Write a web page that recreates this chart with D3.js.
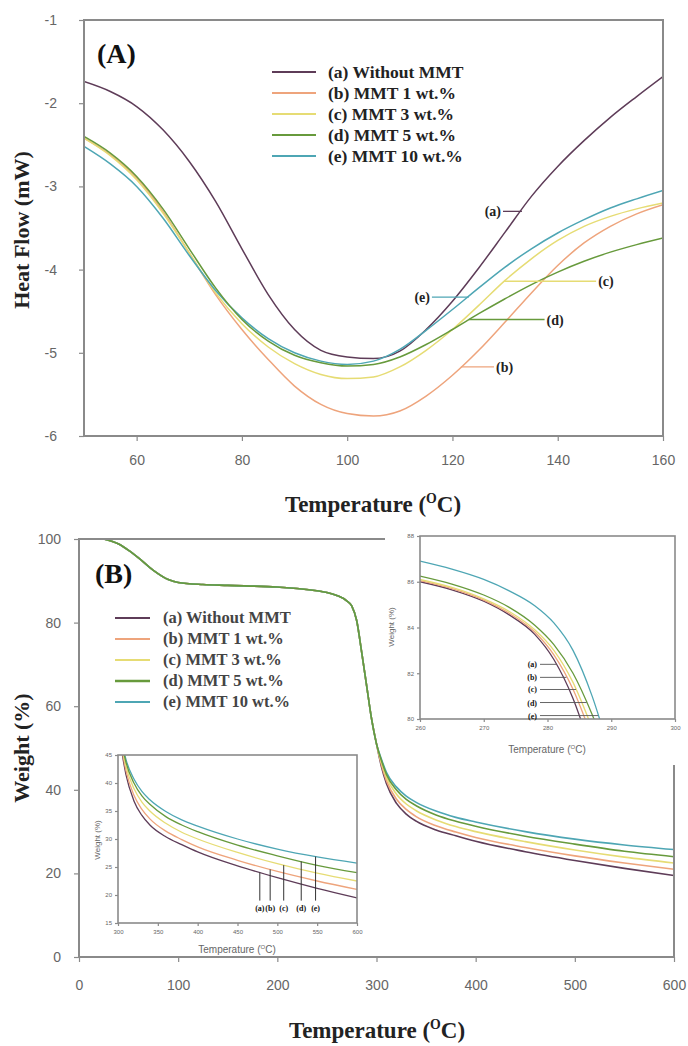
<!DOCTYPE html>
<html>
<head>
<meta charset="utf-8">
<script src="https://cdn.jsdelivr.net/npm/d3@7"></script>
<style>
body { margin: 0; background: #fff; }
</style>
</head>
<body>
<div id="chart"></div>
<script>
// ---- data ----
var seriesKeys = ["(a)", "(b)", "(c)", "(d)", "(e)"];
var seriesNames = ["(a) Without MMT", "(b) MMT 1 wt.%", "(c) MMT 3 wt.%", "(d) MMT 5 wt.%", "(e) MMT 10 wt.%"];

// panel A: DSC heat flow
var dscTemp = [50,55,60,65,70,75,80,85,90,95,100,105,110,115,120,125,130,135,140,145,150,155,160];
var dscA = [-1.74,-1.86,-2.04,-2.32,-2.7,-3.18,-3.75,-4.3,-4.72,-4.97,-5.05,-5.07,-4.98,-4.72,-4.38,-3.98,-3.55,-3.12,-2.76,-2.45,-2.17,-1.92,-1.68];
var dscB = [-2.42,-2.62,-2.9,-3.3,-3.8,-4.3,-4.72,-5.08,-5.4,-5.62,-5.73,-5.76,-5.7,-5.52,-5.27,-4.97,-4.63,-4.28,-3.95,-3.68,-3.48,-3.33,-3.22];
var dscC = [-2.42,-2.63,-2.92,-3.32,-3.8,-4.28,-4.65,-4.93,-5.13,-5.26,-5.31,-5.29,-5.17,-4.97,-4.72,-4.43,-4.13,-3.87,-3.65,-3.48,-3.36,-3.27,-3.2];
var dscD = [-2.4,-2.6,-2.88,-3.27,-3.75,-4.22,-4.6,-4.86,-5.03,-5.12,-5.16,-5.14,-5.05,-4.9,-4.72,-4.53,-4.35,-4.18,-4.03,-3.9,-3.79,-3.7,-3.62];
var dscE = [-2.52,-2.73,-3.0,-3.38,-3.83,-4.25,-4.58,-4.83,-5.0,-5.1,-5.14,-5.1,-4.96,-4.73,-4.48,-4.22,-3.97,-3.75,-3.56,-3.4,-3.26,-3.15,-3.05];
var dscTicksX = [60,80,100,120,140,160];
var dscTicksY = [-1,-2,-3,-4,-5,-6];
// curve labels in panel A: value, temperature on the curve, temperature at label side
var dscNoteY = [-3.3,-5.17,-4.14,-4.6,-4.33];
var dscNoteCurve = [133.2,121.6,129.8,123.1,123.1];
var dscNoteEnd = [129.6,127.9,147.3,137.5,116.1];

// panel B: TGA weight
var tgaTemp = [25,40,50,60,75,90,100,125,150,200,250,260,270,275,280,285,290,295,300,305,310,320,330,340,360,380,400,450,500,550,600];
var tgaCommon = [100,98.8,97.3,95.5,92.5,90.3,89.6,89.1,88.9,88.5,87.2,86.5,85.2,84,80.5,73,65,57,51];
var tgaA = tgaCommon.concat([45.5,41.5,36.8,34.2,32.5,30.4,29.0,27.7,25.2,23.1,21.2,19.5]);
var tgaB = tgaCommon.concat([46,42.2,37.8,35.3,33.6,31.4,29.9,28.6,26.2,24.2,22.5,21.0]);
var tgaC = tgaCommon.concat([46.5,43,39,36.6,35,32.8,31.2,30,27.6,25.6,23.9,22.5]);
var tgaD = tgaCommon.concat([47,43.7,40,37.7,36.2,34,32.5,31.3,28.9,27,25.3,24]);
var tgaE = tgaCommon.concat([47.3,44.2,40.7,38.5,37,34.9,33.4,32.3,30,28.2,26.8,25.7]);
var tgaTicksX = [0,100,200,300,400,500,600];
var tgaTicksY = [0,20,40,60,80,100];

// inset (upper right): onset of decomposition
var onsetTemp = [260,265,270,274,278,281,284,287,290];
var onsetA = [86.0,85.65,85.15,84.55,83.7,82.6,80.9,78.5,76];
var onsetB = [86.05,85.7,85.2,84.62,83.8,82.8,81.3,79.2,77];
var onsetC = [86.1,85.75,85.25,84.7,83.9,83.0,81.6,79.6,77.3];
var onsetD = [86.25,85.9,85.42,84.88,84.1,83.25,82.0,80.2,78];
var onsetE = [86.9,86.55,86.1,85.6,84.95,84.2,83.0,81.0,78.3];
var onsetTicksX = [260,270,280,290,300];
var onsetTicksY = [80,82,84,86,88];
var onsetNoteY = [82.39,81.82,81.29,80.72,80.15];

// inset (lower left): residue region, same TGA curves
var tailTicksX = [300,350,400,450,500,550,600];
var tailTicksY = [15,20,25,30,35,40,45];
var tailNoteT = [478,491,508,530,548];

var colors = ["#5e3c58", "#eea47c", "#e6dc74", "#679a3c", "#4ea6b4"];
var drawOrder = [0, 1, 2, 4, 3];

// ---- helpers ----
var svg = d3.select("#chart").append("svg")
	.attr("width", 688)
	.attr("height", 1046);

var serif = "'Liberation Serif', 'Times New Roman', serif";
var sans = "'Liberation Sans', Arial, sans-serif";

function styleAxis(g, size, color) {
	g.select(".domain").remove();
	g.selectAll(".tick line").attr("stroke", "#8a8a8a").attr("stroke-width", 1.2);
	g.selectAll(".tick text")
		.style("font-family", sans)
		.style("font-size", size + "px")
		.attr("fill", color);
}

function frame(x, y, sw) {
	svg.append("rect")
		.attr("x", x.range()[0])
		.attr("y", y.range()[1])
		.attr("width", x.range()[1] - x.range()[0])
		.attr("height", y.range()[0] - y.range()[1])
		.attr("fill", "none")
		.attr("stroke", "#8a8a8a")
		.attr("stroke-width", sw);
}

function clipFor(id, x, y) {
	svg.append("clipPath").attr("id", id)
		.append("rect")
		.attr("x", x.range()[0])
		.attr("y", y.range()[1])
		.attr("width", x.range()[1] - x.range()[0])
		.attr("height", y.range()[0] - y.range()[1]);
	return "url(#" + id + ")";
}

function drawCurves(temps, series, x, y, clip, width) {
	var line = d3.line()
		.x(function(d, i) { return x(temps[i]); })
		.y(function(d) { return y(d); })
		.curve(d3.curveMonotoneX);
	var g = svg.append("g").attr("clip-path", clip);
	drawOrder.forEach(function(k) {
		g.append("path")
			.attr("d", line(series[k]))
			.attr("fill", "none")
			.attr("stroke", colors[k])
			.attr("stroke-width", width);
	});
}

function tempTitle(x, y, size, weight, family, color) {
	var t = svg.append("text")
		.attr("x", x).attr("y", y)
		.attr("text-anchor", "middle")
		.style("font-family", family)
		.style("font-size", size + "px")
		.style("font-weight", weight)
		.attr("fill", color);
	t.append("tspan").text("Temperature (");
	t.append("tspan").attr("dy", -size * 0.4).style("font-size", (size * 0.6) + "px").text("O");
	t.append("tspan").attr("dy", size * 0.4).text("C)");
}

function yTitle(x, y, text, size, weight, family, color) {
	svg.append("text")
		.attr("transform", "translate(" + x + "," + y + ")rotate(-90)")
		.attr("text-anchor", "middle")
		.style("font-family", family)
		.style("font-size", size + "px")
		.style("font-weight", weight)
		.attr("fill", color)
		.text(text);
}

// value of a curve at a temperature / temperature where a curve crosses a value
function valueAt(temps, vals, t) {
	for (var i = 0; i < temps.length - 1; i++) {
		if (t >= temps[i] && t <= temps[i + 1]) {
			var f = (t - temps[i]) / (temps[i + 1] - temps[i]);
			return vals[i] + f * (vals[i + 1] - vals[i]);
		}
	}
	return vals[vals.length - 1];
}
function tempAt(temps, vals, v) {
	for (var i = 0; i < temps.length - 1; i++) {
		if ((vals[i] - v) * (vals[i + 1] - v) <= 0) {
			var f = (v - vals[i]) / (vals[i + 1] - vals[i]);
			return temps[i] + f * (temps[i + 1] - temps[i]);
		}
	}
	return temps[temps.length - 1];
}

// ================= Panel A =================
var xA = d3.scaleLinear().domain([50, 160]).range([84, 663]);
var yA = d3.scaleLinear().domain([-6, -1]).range([436, 20]);

svg.append("g")
	.attr("transform", "translate(0," + yA.range()[0] + ")")
	.call(d3.axisBottom(xA).tickValues(dscTicksX).tickSize(5).tickPadding(14).tickFormat(String))
	.call(styleAxis, 14, "#666");
svg.append("g")
	.attr("transform", "translate(" + xA.range()[0] + ",0)")
	.call(d3.axisLeft(yA).tickValues(dscTicksY).tickSize(5).tickPadding(22).tickFormat(String))
	.call(styleAxis, 14, "#666");

drawCurves(dscTemp, [dscA, dscB, dscC, dscD, dscE], xA, yA, clipFor("clipA", xA, yA), 1.5);
frame(xA, yA, 2);

// curve labels
seriesKeys.forEach(function(k, i) {
	var left = dscNoteEnd[i] < dscNoteCurve[i];
	svg.append("line")
		.attr("x1", xA(dscNoteCurve[i])).attr("x2", xA(dscNoteEnd[i]))
		.attr("y1", yA(dscNoteY[i])).attr("y2", yA(dscNoteY[i]))
		.attr("stroke", colors[i]).attr("stroke-width", 1.3);
	svg.append("text")
		.attr("x", xA(dscNoteEnd[i]) + (left ? -2 : 2))
		.attr("y", yA(dscNoteY[i]) + 5)
		.attr("text-anchor", left ? "end" : "start")
		.style("font-family", serif).style("font-size", "14px").style("font-weight", "bold")
		.attr("fill", "#222")
		.text(k);
});

// legend A
seriesNames.forEach(function(n, i) {
	var ly = 72 + i * 21;
	svg.append("line")
		.attr("x1", 272).attr("x2", 316).attr("y1", ly).attr("y2", ly)
		.attr("stroke", colors[i]).attr("stroke-width", 2);
	svg.append("text")
		.attr("x", 328).attr("y", ly + 6)
		.style("font-family", serif).style("font-size", "17.5px").style("font-weight", "bold")
		.attr("fill", "#222")
		.text(n);
});

svg.append("text")
	.attr("x", 97).attr("y", 63)
	.style("font-family", serif).style("font-size", "28px").style("font-weight", "bold")
	.attr("fill", "#111")
	.text("(A)");

tempTitle(373, 512, 23, "bold", serif, "#222");
yTitle(29, 230, "Heat Flow (mW)", 22, "bold", serif, "#222");

// ================= Panel B =================
var xB = d3.scaleLinear().domain([0, 600]).range([79, 674]);
var yB = d3.scaleLinear().domain([0, 100]).range([957, 539]);
var tgaSeries = [tgaA, tgaB, tgaC, tgaD, tgaE];

svg.append("g")
	.attr("transform", "translate(0," + yB.range()[0] + ")")
	.call(d3.axisBottom(xB).tickValues(tgaTicksX).tickSize(5).tickPadding(18).tickFormat(String))
	.call(styleAxis, 14, "#666");
svg.append("g")
	.attr("transform", "translate(" + xB.range()[0] + ",0)")
	.call(d3.axisLeft(yB).tickValues(tgaTicksY).tickSize(5).tickPadding(13).tickFormat(String))
	.call(styleAxis, 14, "#666");

drawCurves(tgaTemp, tgaSeries, xB, yB, clipFor("clipB", xB, yB), 1.6);
frame(xB, yB, 2);

seriesNames.forEach(function(n, i) {
	var ly = 618 + i * 21;
	svg.append("line")
		.attr("x1", 115).attr("x2", 150).attr("y1", ly).attr("y2", ly)
		.attr("stroke", colors[i]).attr("stroke-width", i == 3 ? 2.5 : 1.8);
	svg.append("text")
		.attr("x", 163).attr("y", ly + 5)
		.style("font-family", serif).style("font-size", "16.5px").style("font-weight", "bold")
		.attr("fill", "#444")
		.text(n);
});

svg.append("text")
	.attr("x", 95).attr("y", 583)
	.style("font-family", serif).style("font-size", "28px").style("font-weight", "bold")
	.attr("fill", "#111")
	.text("(B)");

tempTitle(377, 1038, 23, "bold", serif, "#222");
yTitle(29, 748, "Weight (%)", 22, "bold", serif, "#222");

// ---- inset: upper right ----
svg.append("rect")
	.attr("x", 385).attr("y", 527).attr("width", 303).attr("height", 238)
	.attr("fill", "#fff");
var xR = d3.scaleLinear().domain([260, 300]).range([420, 675]);
var yR = d3.scaleLinear().domain([80, 88]).range([719, 536]);
svg.append("g")
	.attr("transform", "translate(0," + yR.range()[0] + ")")
	.call(d3.axisBottom(xR).tickValues(onsetTicksX).tickSize(3).tickPadding(4).tickFormat(String))
	.call(styleAxis, 6, "#666");
svg.append("g")
	.attr("transform", "translate(" + xR.range()[0] + ",0)")
	.call(d3.axisLeft(yR).tickValues(onsetTicksY).tickSize(3).tickPadding(3).tickFormat(String))
	.call(styleAxis, 6, "#666");
var onsetSeries = [onsetA, onsetB, onsetC, onsetD, onsetE];
drawCurves(onsetTemp, onsetSeries, xR, yR, clipFor("clipR", xR, yR), 1.3);
frame(xR, yR, 1.6);

seriesKeys.forEach(function(k, i) {
	var yy = yR(onsetNoteY[i]);
	svg.append("line")
		.attr("x1", 540).attr("x2", xR(tempAt(onsetTemp, onsetSeries[i], onsetNoteY[i])))
		.attr("y1", yy).attr("y2", yy)
		.attr("stroke", "#555").attr("stroke-width", 0.9);
	svg.append("text")
		.attr("x", 537).attr("y", yy + 3)
		.attr("text-anchor", "end")
		.style("font-family", serif).style("font-size", "8px").style("font-weight", "bold")
		.attr("fill", "#111")
		.text(k);
});
tempTitle(547, 753, 10, "normal", sans, "#666");
yTitle(394, 627, "Weight (%)", 8, "normal", sans, "#666");

// ---- inset: lower left ----
svg.append("rect")
	.attr("x", 88).attr("y", 742).attr("width", 284).attr("height", 212)
	.attr("fill", "#fff");
var xL = d3.scaleLinear().domain([300, 600]).range([118, 357]);
var yL = d3.scaleLinear().domain([15, 45]).range([923, 755]);
svg.append("g")
	.attr("transform", "translate(0," + yL.range()[0] + ")")
	.call(d3.axisBottom(xL).tickValues(tailTicksX).tickSize(3).tickPadding(4).tickFormat(String))
	.call(styleAxis, 6, "#666");
svg.append("g")
	.attr("transform", "translate(" + xL.range()[0] + ",0)")
	.call(d3.axisLeft(yL).tickValues(tailTicksY).tickSize(3).tickPadding(3).tickFormat(String))
	.call(styleAxis, 6, "#666");
drawCurves(tgaTemp, tgaSeries, xL, yL, clipFor("clipL", xL, yL), 1.3);
frame(xL, yL, 1.6);

seriesKeys.forEach(function(k, i) {
	var xx = xL(tailNoteT[i]);
	svg.append("line")
		.attr("x1", xx).attr("x2", xx)
		.attr("y1", yL(19)).attr("y2", yL(valueAt(tgaTemp, tgaSeries[i], tailNoteT[i])))
		.attr("stroke", "#333").attr("stroke-width", 1);
	svg.append("text")
		.attr("x", xx).attr("y", yL(17.2))
		.attr("text-anchor", "middle")
		.style("font-family", serif).style("font-size", "8px").style("font-weight", "bold")
		.attr("fill", "#111")
		.text(k);
});
tempTitle(237, 953, 10, "normal", sans, "#666");
yTitle(100, 840, "Weight (%)", 8, "normal", sans, "#666");
</script>
</body>
</html>
